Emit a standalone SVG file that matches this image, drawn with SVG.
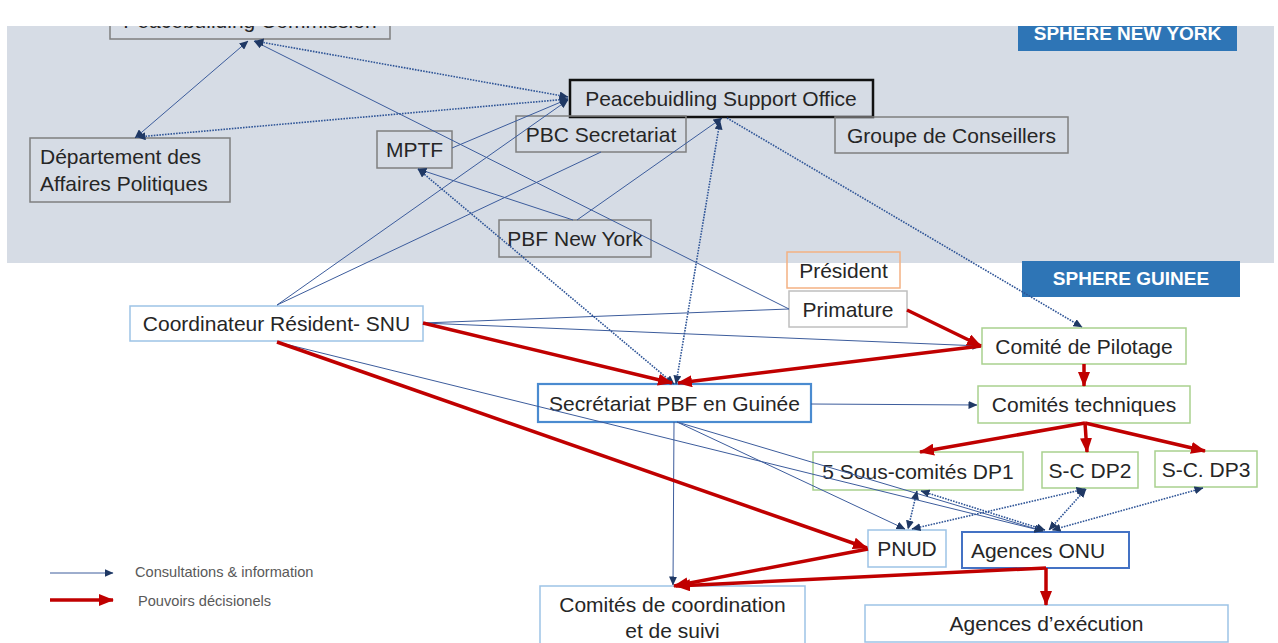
<svg xmlns="http://www.w3.org/2000/svg" width="1278" height="643" viewBox="0 0 1278 643">
<style>
  text { font-family: "Liberation Sans", Arial, sans-serif; fill: #262626; }
  .lbl { font-size: 21px; text-anchor: middle; }
  .ny { fill: none; stroke: #7F7F7F; stroke-width: 1.5; }
  .lb { fill: none; stroke: #9DC3E6; stroke-width: 1.5; }
  .gr { fill: none; stroke: #A9D18E; stroke-width: 1.5; }
  .sphere { fill: #2E75B6; }
  .stx { font-size: 19px; font-weight: bold; fill: #FFFFFF; text-anchor: middle; }
  .c { fill: none; stroke: #3C5C9C; stroke-width: 1; }
  .d { fill: none; stroke: #2F5597; stroke-width: 1.6; stroke-dasharray: 1.6 1.2; }
  .r { fill: none; stroke: #C00000; stroke-width: 3.5; }
  .leg { font-size: 14.6px; fill: #595959; }
</style>
<defs>
  <marker id="ab" markerUnits="userSpaceOnUse" markerWidth="9" markerHeight="8" refX="8.5" refY="4" orient="auto-start-reverse">
    <path d="M0,0 L9,4 L0,8 z" fill="#1F3864"/>
  </marker>
  <marker id="ar" markerUnits="userSpaceOnUse" markerWidth="15" markerHeight="12" refX="14" refY="6" orient="auto">
    <path d="M0,0 L15,6 L0,12 z" fill="#C00000"/>
  </marker>
</defs>

<rect id="sphere-ny-bg" x="7" y="26" width="1267" height="237" fill="#D6DCE5"/>

<g id="n-pbc-commission"><rect class="ny" x="110" y="2" width="280" height="37"/><text class="lbl" x="250" y="28">Peacebuilding Commission</text></g>
<g id="n-dap"><rect class="ny" x="30" y="138" width="200" height="64"/><text x="40" y="164" style="font-size:21px">Département des</text><text x="40" y="191" style="font-size:21px">Affaires Politiques</text></g>
<g id="n-mptf"><rect class="ny" x="377" y="131" width="75" height="37"/><text class="lbl" x="414.5" y="157">MPTF</text></g>
<g id="n-pso"><rect fill="none" stroke="#111" stroke-width="2.5" x="570" y="80" width="303" height="37"/><text class="lbl" x="721" y="106">Peacebuidling Support Office</text></g>
<g id="n-pbc-sec"><rect class="ny" x="516" y="116" width="170" height="36"/><text class="lbl" x="601" y="141.5">PBC Secretariat</text></g>
<g id="n-groupe"><rect class="ny" x="835" y="117" width="233" height="36"/><text class="lbl" x="951.5" y="142.5">Groupe de Conseillers</text></g>
<g id="n-pbf-ny"><rect class="ny" x="499" y="220" width="152" height="37"/><text class="lbl" x="575" y="246">PBF New York</text></g>
<g id="n-sphere-ny"><rect class="sphere" x="1018" y="14" width="219" height="37"/><text class="stx" x="1127.5" y="40">SPHERE NEW YORK</text></g>

<g id="n-sphere-gn"><rect class="sphere" x="1022" y="261" width="218" height="36"/><text class="stx" x="1131" y="285">SPHERE GUINEE</text></g>
<g id="n-president"><rect fill="none" stroke="#F4B183" stroke-width="1.5" x="787" y="252" width="113" height="36"/><text class="lbl" x="843.5" y="277.5">Président</text></g>
<g id="n-primature"><rect fill="none" stroke="#BFBFBF" stroke-width="1.5" x="789" y="291" width="118" height="36"/><text class="lbl" x="848" y="316.5">Primature</text></g>
<g id="n-coord"><rect class="lb" x="130" y="306" width="293" height="35"/><text class="lbl" x="276.5" y="331">Coordinateur Résident- SNU</text></g>
<g id="n-secretariat"><rect fill="none" stroke="#4A8BD0" stroke-width="2.2" x="538" y="384" width="273" height="38"/><text class="lbl" x="674.5" y="410.5">Secrétariat PBF en Guinée</text></g>
<g id="n-pilotage"><rect class="gr" x="982" y="328" width="204" height="36"/><text class="lbl" x="1084" y="353.5">Comité de Pilotage</text></g>
<g id="n-techniques"><rect class="gr" x="978" y="386" width="212" height="37"/><text class="lbl" x="1084" y="412">Comités techniques</text></g>
<g id="n-dp1"><rect class="gr" x="813" y="452" width="210" height="38"/><text class="lbl" x="918" y="478.5">5 Sous-comités DP1</text></g>
<g id="n-dp2"><rect class="gr" x="1042" y="452" width="96" height="36"/><text class="lbl" x="1090" y="477.5">S-C DP2</text></g>
<g id="n-dp3"><rect class="gr" x="1155" y="451" width="102" height="36"/><text class="lbl" x="1206" y="476.5">S-C. DP3</text></g>
<g id="n-pnud"><rect class="lb" x="868" y="530" width="78" height="37"/><text class="lbl" x="907" y="556">PNUD</text></g>
<g id="n-agences-onu"><rect fill="none" stroke="#4472C4" stroke-width="2" x="962" y="532" width="167" height="36"/><text class="lbl" x="1038" y="557.5">Agences ONU</text></g>
<g id="n-comites-coord"><rect class="lb" x="540" y="586" width="265" height="64"/><text class="lbl" x="672.5" y="612">Comités de coordination</text><text class="lbl" x="672.5" y="638">et de suivi</text></g>
<g id="n-agences-exec"><rect class="lb" x="865" y="605" width="363" height="37"/><text class="lbl" x="1046.5" y="631">Agences d’exécution</text></g>

<g id="connectors">
  <path class="c" d="M135,138 L248,41" marker-start="url(#ab)" marker-end="url(#ab)"/>
  <path class="c" d="M789,309 L254,41" marker-end="url(#ab)"/>
  <path class="c" d="M277,305 L568,100" marker-end="url(#ab)"/>
  <path class="c" d="M277,305 L601,152"/>
  <path class="c" d="M452,148 L568,99" marker-end="url(#ab)"/>
  <path class="c" d="M573,220 L418,169" marker-end="url(#ab)"/>
  <path class="c" d="M577,220 L722,118" marker-end="url(#ab)"/>
  <path class="c" d="M423,323 L789,309"/>
  <path class="c" d="M423,323 L981,346" marker-end="url(#ab)"/>
  <path class="c" d="M277,342 L1043,531" marker-end="url(#ab)"/>
  <path class="c" d="M811,404 L977,405" marker-end="url(#ab)"/>
  <path class="c" d="M674,422 L673,585" marker-end="url(#ab)"/>
  <path class="c" d="M677,422 L905,529" marker-end="url(#ab)"/>
  <path class="c" d="M677,422 L1043,531" marker-end="url(#ab)"/>

  <path class="d" d="M255,41 L568,97" marker-start="url(#ab)" marker-end="url(#ab)"/>
  <path class="d" d="M137,137 L568,99" marker-start="url(#ab)" marker-end="url(#ab)"/>
  <path class="d" d="M418,169 L674,384" marker-start="url(#ab)" marker-end="url(#ab)"/>
  <path class="d" d="M676,384 L720,121" marker-start="url(#ab)" marker-end="url(#ab)"/>
  <path class="d" d="M727,118 L1082,327" marker-end="url(#ab)"/>
  <path class="d" d="M917,491 L908,529" marker-start="url(#ab)" marker-end="url(#ab)"/>
  <path class="d" d="M921,491 L1045,530" marker-start="url(#ab)" marker-end="url(#ab)"/>
  <path class="d" d="M1085,489 L912,529" marker-start="url(#ab)" marker-end="url(#ab)"/>
  <path class="d" d="M1086,489 L1049,530" marker-start="url(#ab)" marker-end="url(#ab)"/>
  <path class="d" d="M1203,488 L1052,530" marker-start="url(#ab)" marker-end="url(#ab)"/>

  <path class="r" d="M423,323 L672,383" marker-end="url(#ar)"/>
  <path class="r" d="M277,342 L867,548" marker-end="url(#ar)"/>
  <path class="r" d="M907,310 L981,346" marker-end="url(#ar)"/>
  <path class="r" d="M981,346 L678,383" marker-end="url(#ar)"/>
  <path class="r" d="M1084,364 L1084,386" marker-end="url(#ar)"/>
  <path class="r" d="M1085,423 L920,452" marker-end="url(#ar)"/>
  <path class="r" d="M1085,423 L1087,452" marker-end="url(#ar)"/>
  <path class="r" d="M1085,423 L1205,451" marker-end="url(#ar)"/>
  <path class="r" d="M868,549 L674,586" marker-end="url(#ar)"/>
  <path class="r" d="M1046,568 L676,586" marker-end="url(#ar)"/>
  <path class="r" d="M1046,568 L1046,605" marker-end="url(#ar)"/>
</g>

<rect id="top-crop" x="0" y="0" width="1278" height="26" fill="#FFFFFF"/>

<g id="legend">
  <path class="c" d="M50,573 L113,573" marker-end="url(#ab)"/>
  <text class="leg" x="135" y="577">Consultations &amp; information</text>
  <path class="r" d="M50,600 L113,600" marker-end="url(#ar)"/>
  <text class="leg" x="138" y="606">Pouvoirs décisionels</text>
</g>
</svg>
